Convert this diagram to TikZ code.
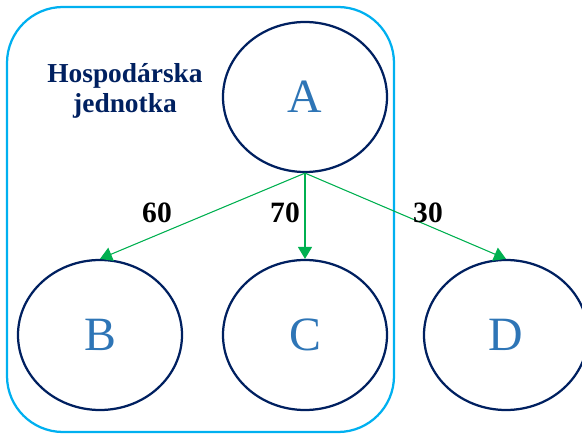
\documentclass[tikz,border=0pt]{standalone}
\usepackage{fontspec}
\setmainfont{Liberation Serif}
\usetikzlibrary{shapes.geometric,arrows.meta}
\definecolor{navy}{RGB}{0,32,96}
\definecolor{frameblue}{RGB}{0,176,240}
\definecolor{arrowgreen}{RGB}{0,176,80}
\definecolor{letterblue}{RGB}{46,117,182}
\begin{document}
\begin{tikzpicture}[>={Triangle[length=8.5pt,width=10pt]},
   unit/.style={ellipse,draw=navy,line width=1.6pt,minimum width=4.1cm,minimum height=3.75cm,inner sep=0pt,
      text=letterblue,font=\fontsize{34}{40}\selectfont},
   flow/.style={->,draw=arrowgreen,fill=arrowgreen,line width=0.75pt},
   share/.style={font=\fontsize{21}{24}\selectfont\bfseries}]
   \useasboundingbox (0,0) rectangle (14.55,10.825);
   % hospodárska jednotka
   \draw[frameblue,line width=1.6pt,rounded corners=1.4cm] (0.175,0.025) rectangle (9.85,10.65);
   \node[align=center,text=navy,font=\fontsize{19.5}{21.5}\selectfont\bfseries] (label) at (3.125,8.55) {Hospodárska\\jednotka};

   \node[unit] (A) at (7.625,8.4) {A};
   \node[unit] (B) at (2.5,2.45) {B};
   \node[unit] (C) at (7.625,2.45) {C};
   \node[unit] (D) at (12.65,2.45) {D};

   \draw[flow] (A.south) -- (B.north);
   \draw[flow] (A.south) -- (C.north);
   \draw[flow] (A.south) -- (D.north);

   \node[share] (s60) at (3.925,5.5) {60};
   \node[share] (s70) at (7.125,5.5) {70};
   \node[share] (s30) at (10.7,5.5) {30};
\end{tikzpicture}
\end{document}
